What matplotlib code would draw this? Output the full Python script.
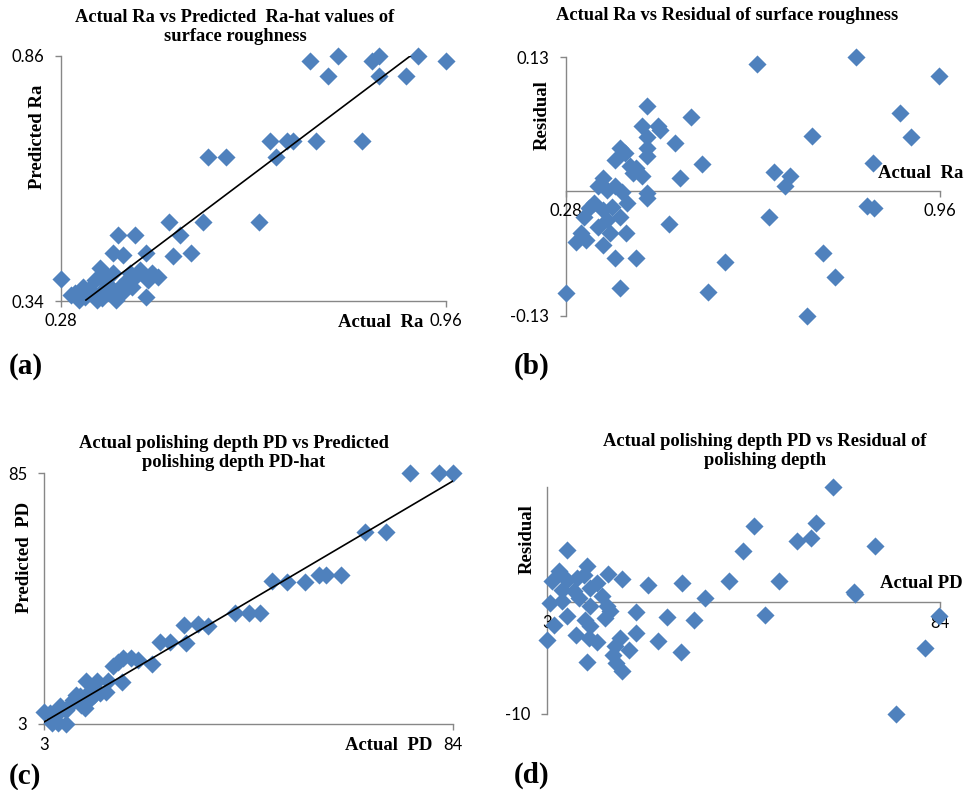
import numpy as np
import matplotlib
matplotlib.use("Agg")
import matplotlib.pyplot as plt

# ---- data ----
# (a) actual Ra vs predicted Ra
ra_actual = [0.720, 0.770, 0.751, 0.829, 0.842, 0.841, 0.890, 0.911, 0.960,
             0.650, 0.680, 0.690, 0.730, 0.811, 0.660, 0.540, 0.572,
             0.630, 0.470, 0.530, 0.380, 0.411, 0.490, 0.371, 0.390, 0.430,
             0.478, 0.509, 0.280, 0.451, 0.349, 0.305, 0.312, 0.298, 0.319,
             0.334, 0.343, 0.352, 0.361, 0.372, 0.378, 0.387, 0.396, 0.402,
             0.414, 0.420, 0.430, 0.434, 0.440, 0.367, 0.340, 0.328, 0.384,
             0.406, 0.349, 0.322, 0.375, 0.359]
ra_pred = [0.849, 0.860, 0.817, 0.849, 0.860, 0.817, 0.817, 0.860, 0.849,
           0.680, 0.680, 0.680, 0.680, 0.680, 0.646, 0.646, 0.646,
           0.508, 0.508, 0.508, 0.481, 0.481, 0.481, 0.441, 0.438, 0.441,
           0.435, 0.441, 0.387, 0.390, 0.409, 0.356, 0.342, 0.353, 0.370,
           0.360, 0.342, 0.346, 0.377, 0.399, 0.342, 0.356, 0.385, 0.399,
           0.395, 0.406, 0.349, 0.385, 0.399, 0.370, 0.385, 0.363, 0.370,
           0.370, 0.356, 0.349, 0.353, 0.395]
ra_fit_x = [0.324, 0.898]
ra_fit_y = [0.342, 0.861]

# (b) actual Ra vs residual
rb_actual = [0.628, 0.808, 0.959, 0.428, 0.507, 0.419, 0.448, 0.451, 0.428,
             0.479, 0.428, 0.428, 0.727, 0.887, 0.908, 0.838, 0.528, 0.658,
             0.687, 0.678, 0.488, 0.378, 0.387, 0.369, 0.396, 0.408, 0.402,
             0.418, 0.348, 0.339, 0.354, 0.369, 0.381, 0.428, 0.428, 0.330,
             0.321, 0.312, 0.348, 0.363, 0.390, 0.378, 0.354, 0.339, 0.360,
             0.389, 0.308, 0.299, 0.317, 0.348, 0.369, 0.408, 0.280, 0.378,
             0.539, 0.569, 0.468, 0.649, 0.827, 0.840, 0.748, 0.769, 0.719]
rb_resid = [0.1235, 0.130, 0.1118, 0.0819, 0.0712, 0.0624, 0.0631, 0.0592,
            0.052, 0.0462, 0.0413, 0.0338, 0.0527, 0.0754, 0.0517, 0.0267,
            0.0257, 0.0179, 0.0137, 0.0039, 0.0120, 0.0413, 0.0364, 0.0299,
            0.0234, 0.0218, 0.0169, 0.0137, 0.0120, 0.0039, 0.0007, 0.0039,
            -0.001, -0.0026, -0.0075, -0.0124, -0.0172, -0.0254, -0.0189,
            -0.0156, -0.0124, -0.0254, -0.0286, -0.0351, -0.0416, -0.0416,
            -0.0416, -0.0497, -0.0481, -0.0530, -0.0660, -0.0660, -0.1001,
            -0.0952, -0.0991, -0.0699, -0.0328, -0.0254, -0.0150, -0.0172,
            -0.0611, -0.0845, -0.1222]

# (c) actual PD vs predicted PD
pd_actual = [75.5, 81.3, 84.0, 66.6, 70.8, 48.2, 51.1, 54.6, 57.5, 58.8, 61.9,
             40.8, 43.6, 45.7, 30.7, 33.5, 35.5, 25.9, 27.9, 31.2, 16.7, 17.7,
             18.6, 20.3, 21.6, 24.3, 18.5, 15.3, 15.7, 13.4, 11.4, 12.4, 9.4,
             8.7, 11.1, 7.4, 6.1, 4.1, 3.0, 5.1, 5.8, 7.4, 4.5, 10.4, 12.0,
             14.0, 8.1, 10.1, 13.0]
pd_pred = [85.0, 85.0, 85.0, 65.8, 65.8, 49.8, 49.5, 49.5, 51.7, 51.7, 51.7,
           39.2, 39.2, 39.2, 35.4, 35.6, 35.1, 29.9, 29.9, 29.6, 21.8, 23.4,
           24.5, 24.5, 24.0, 22.7, 16.6, 13.6, 17.2, 16.9, 16.9, 14.2, 12.6,
           10.9, 8.2, 7.7, 8.8, 6.6, 6.9, 5.5, 3.3, 3.0, 3.3, 9.3, 10.9,
           13.1, 9.3, 12.0, 12.6]
pd_fit_x = [3, 84]
pd_fit_y = [3.65, 82.4]

# (d) actual PD vs residual
rd_actual = [61.9, 45.6, 58.5, 57.4, 54.5, 43.3, 70.6, 7.1, 40.6, 50.9, 66.5,
             66.3, 23.9, 30.8, 35.5, 15.6, 18.4, 11.2, 5.4, 4.0, 7.1, 9.2,
             10.6, 13.3, 6.1, 8.5, 11.9, 14.3, 3.7, 6.1, 9.5, 11.9, 15.4,
             16.0, 15.0, 7.1, 4.4, 3.0, 9.0, 10.9, 11.9, 11.6, 13.3, 11.2,
             18.1, 17.1, 16.6, 17.3, 18.4, 20.0, 21.3, 21.3, 25.9, 27.8, 30.6,
             33.4, 48.0, 83.7, 80.9, 74.9]
rd_resid = [10.3, 6.81, 7.10, 5.76, 5.46, 4.63, 5.07, 4.72, 1.94, 1.88, 0.78,
            0.90, 1.58, 1.73, 0.39, 2.54, 2.09, 3.22, 2.78, 1.88, 2.03, 2.18,
            2.48, 1.73, 1.13, 0.99, 1.28, 0.54, -0.06, 0.09, 0.39, -0.36,
            -0.36, -0.81, -1.40, -1.25, -2.0, -3.40, -2.90, -1.55, -2.15,
            -3.19, -3.58, -5.37, -3.19, -3.94, -4.69, -5.43, -6.12, -4.24,
            -0.90, -2.75, -3.43, -1.34, -4.48, -1.61, -1.10, -1.25, -4.09,
            -9.97]

BLUE = "#4F81BD"
GREY = "#878787"
SERIF = "Liberation Serif"
SANS = "Lato"

W, H = 966, 790
fig = plt.figure(figsize=(W / 100, H / 100), dpi=100)


def box(left, top, right, bottom):
    # pixel box -> axes in figure fraction
    return fig.add_axes([left / W, 1 - bottom / H, (right - left) / W, (bottom - top) / H])


def ftext(x, y, s, **kw):
    fig.text(x / W, 1 - y / H, s, **kw)


def style(ax, xt, xl, yt, yl, cross_zero=False):
    for side in ("top", "right"):
        ax.spines[side].set_visible(False)
    for side in ("left", "bottom"):
        ax.spines[side].set_color(GREY)
        ax.spines[side].set_linewidth(1.0)
        ax.spines[side].set_zorder(1)
    if cross_zero:
        ax.spines["bottom"].set_position(("data", 0))
    ax.set_xticks(xt, xl)
    ax.set_yticks(yt, yl)
    ax.tick_params(axis="both", direction="out", color=GREY, width=1.0,
                   length=4, labelsize=12)
    ax.tick_params(axis="x", pad=5)
    ax.tick_params(axis="y", pad=8)
    for lab in ax.get_xticklabels() + ax.get_yticklabels():
        lab.set_fontfamily(SANS)
    ax.patch.set_alpha(0)


def points(ax, x, y):
    ax.scatter(x, y, marker="D", s=85, color=BLUE, linewidths=0,
               zorder=3, clip_on=False)


title_kw = dict(fontfamily=SERIF, fontweight="bold", fontsize=13.3,
                ha="center", va="center", linespacing=1.1)
lab_kw = dict(fontfamily=SERIF, fontweight="bold", fontsize=13.5)
panel_kw = dict(fontfamily=SERIF, fontweight="bold", fontsize=21,
                ha="left", va="center")

# (a)
ax = box(61, 56, 446, 301)
points(ax, ra_actual, ra_pred)
ax.plot(ra_fit_x, ra_fit_y, color="black", lw=1.2, zorder=4)
ax.set_xlim(0.28, 0.96)
ax.set_ylim(0.34, 0.86)
style(ax, [0.28, 0.96], ["0.28", "0.96"], [0.34, 0.86], ["0.34", "0.86"])
ftext(235, 27, "Actual Ra vs Predicted  Ra-hat values of\nsurface roughness", **title_kw)
ftext(38, 137, "Predicted Ra", rotation=90, ha="center", va="center", **lab_kw)
ftext(423, 323, "Actual  Ra", ha="right", va="center", **lab_kw)
ftext(9, 366, "(a)", **panel_kw)

# (b)
ax = box(566, 57, 940, 316)
points(ax, rb_actual, rb_resid)
ax.set_xlim(0.28, 0.96)
ax.set_ylim(-0.1222, 0.13)
style(ax, [0.28, 0.96], ["0.28", "0.96"], [-0.1222, 0.13], ["-0.13", "0.13"],
      cross_zero=True)
ftext(727, 16, "Actual Ra vs Residual of surface roughness", **title_kw)
ftext(542, 115, "Residual", rotation=90, ha="center", va="center", **lab_kw)
ftext(963, 173, "Actual  Ra", ha="right", va="center", **lab_kw)
ftext(514, 366, "(b)", **panel_kw)

# (c)
ax = box(44, 473, 453, 724)
points(ax, pd_actual, pd_pred)
ax.plot(pd_fit_x, pd_fit_y, color="black", lw=1.2, zorder=4)
ax.set_xlim(3, 84)
ax.set_ylim(3, 85)
style(ax, [3, 84], ["3", "84"], [3, 85], ["3", "85"])
ftext(234, 453, "Actual polishing depth PD vs Predicted\npolishing depth PD-hat", **title_kw)
ftext(25, 557, "Predicted  PD", rotation=90, ha="center", va="center", **lab_kw)
ftext(432, 745, "Actual  PD", ha="right", va="center", **lab_kw)
ftext(9, 776, "(c)", **panel_kw)

# (d)
ax = box(547, 487, 940, 714)
points(ax, rd_actual, rd_resid)
ax.set_xlim(3, 84)
ax.set_ylim(-10, 10.33)
style(ax, [3, 84], ["3", "84"], [-10], ["-10"], cross_zero=True)
ftext(765, 451, "Actual polishing depth PD vs Residual of\npolishing depth", **title_kw)
ftext(527, 539, "Residual", rotation=90, ha="center", va="center", **lab_kw)
ftext(963, 584, "Actual PD", ha="right", va="center", **lab_kw)
ftext(514, 775, "(d)", **panel_kw)

fig.savefig("out.png", dpi=100)
